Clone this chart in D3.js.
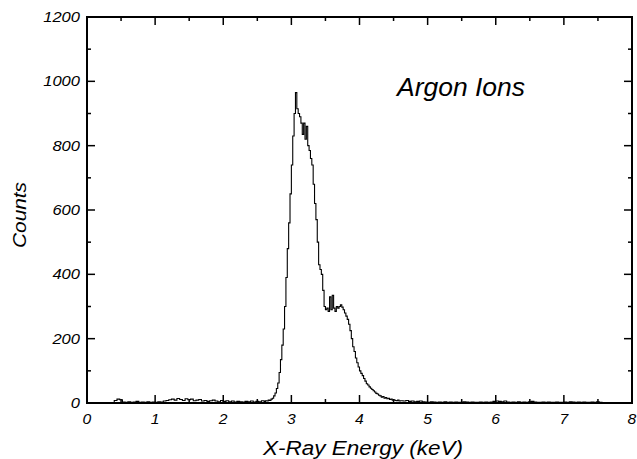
<!DOCTYPE html>
<html><head><meta charset="utf-8">
<script src="https://cdn.jsdelivr.net/npm/d3@7"></script>
<style>body{margin:0;background:#fff}svg{display:block}text{font-family:"Liberation Sans",Arial,sans-serif;font-style:italic;fill:#000}</style>
</head><body>
<script>
// Counts, 0.40–2.56 keV, 0.04 keV bins
const lowStart = 0.40, lowWidth = 0.04;
const lowCounts = [8,12,10,3,2,4,2,3,5,2,3,2,4,2,3,2,4,3,6,8,10,12,9,14,11,8,13,10,12,7,9,11,6,8,5,7,9,6,4,8,5,7,4,6,3,5,4,3,5,4,6,3,5,4,7];
// Counts, 2.60–4.58 keV, 0.02 keV bins
const peakStart = 2.60, peakWidth = 0.02;
const peakCounts = [5,7,6,9,8,12,15,22,31,45,62,95,135,180,230,300,390,480,560,650,740,830,900,965,915,900,890,870,835,870,820,860,800,785,760,740,680,620,570,500,430,415,400,350,300,290,295,285,330,290,335,295,285,300,295,300,305,298,290,280,270,260,245,225,200,175,160,140,125,112,100,92,85,76,68,60,56,50,46,42,38,34,30,28,24,22,18,20,15,17,13,15,11,12,9,10,8,7,9,6];
// Counts, 4.60–7.56 keV, 0.04 keV bins
const highStart = 4.60, highWidth = 0.04;
const highCounts = [7,6,8,5,6,4,5,6,4,3,2,4,3,2,3,2,4,2,3,2,3,2,2,4,3,2,3,2,2,3,2,3,2,3,5,6,5,4,6,3,2,3,2,4,2,3,2,4,5,3,2,2,3,2,3,2,2,3,2,2,3,2,4,3,2,3,2,3,2,2,3,2,4,2];
const xTicks = [0,1,2,3,4,5,6,7,8];
const yTicks = [0,200,400,600,800,1000,1200];
const title = "Argon Ions", xTitle = "X-Ray Energy (keV)", yTitle = "Counts";

const W = 637, H = 459;
const m = {left: 87, right: 5, top: 17, bottom: 56};
const svg = d3.select("body").append("svg").attr("width", W).attr("height", H);
const x = d3.scaleLinear().domain([0, 8]).range([m.left, W - m.right]);
const y = d3.scaleLinear().domain([0, 1200]).range([H - m.bottom, m.top]);

// step data
const bins = [];
lowCounts.forEach((c, i) => bins.push({x0: lowStart + i*lowWidth, x1: lowStart + (i+1)*lowWidth, c}));
peakCounts.forEach((c, i) => bins.push({x0: peakStart + i*peakWidth, x1: peakStart + (i+1)*peakWidth, c}));
highCounts.forEach((c, i) => bins.push({x0: highStart + i*highWidth, x1: highStart + (i+1)*highWidth, c}));
const pts = [[bins[0].x0, 0]];
bins.forEach(b => { pts.push([b.x0, b.c]); pts.push([b.x1, b.c]); });
pts.push([bins[bins.length-1].x1, 0]);
svg.append("path").attr("d", d3.line().x(d => x(d[0])).y(d => y(d[1]))(pts))
  .attr("fill", "none").attr("stroke", "#000").attr("stroke-width", 1.1);

// ticks (inside, all four sides)
const minorX = d3.range(0.5, 8, 1), minorY = d3.range(100, 1200, 200);
const g = svg.append("g").attr("stroke", "#000").attr("stroke-width", 1.5);
const x0 = x(0), x8 = x(8), yb = y(0), yt = y(1200);
xTicks.slice(1, -1).forEach(v => { g.append("line").attr("x1", x(v)).attr("x2", x(v)).attr("y1", yb).attr("y2", yb - 8); g.append("line").attr("x1", x(v)).attr("x2", x(v)).attr("y1", yt).attr("y2", yt + 8); });
minorX.forEach(v => { g.append("line").attr("x1", x(v)).attr("x2", x(v)).attr("y1", yb).attr("y2", yb - 4); g.append("line").attr("x1", x(v)).attr("x2", x(v)).attr("y1", yt).attr("y2", yt + 4); });
yTicks.slice(1, -1).forEach(v => { g.append("line").attr("x1", x0).attr("x2", x0 + 8).attr("y1", y(v)).attr("y2", y(v)); g.append("line").attr("x1", x8).attr("x2", x8 - 8).attr("y1", y(v)).attr("y2", y(v)); });
minorY.forEach(v => { g.append("line").attr("x1", x0).attr("x2", x0 + 4).attr("y1", y(v)).attr("y2", y(v)); g.append("line").attr("x1", x8).attr("x2", x8 - 4).attr("y1", y(v)).attr("y2", y(v)); });

// frame
svg.append("rect").attr("x", x0).attr("y", yt).attr("width", x8 - x0).attr("height", yb - yt)
  .attr("fill", "none").attr("stroke", "#000").attr("stroke-width", 2);

function stretch(sel, f) {
  sel.each(function() { const L = this.getComputedTextLength(); d3.select(this).attr("textLength", L * f).attr("lengthAdjust", "spacingAndGlyphs"); });
}
// tick labels
svg.append("g").selectAll("text").data(xTicks).join("text")
  .attr("x", d => x(d)).attr("y", yb + 21).attr("text-anchor", "middle").attr("font-size", 14).text(d => d).call(stretch, 1.12);
svg.append("g").selectAll("text").data(yTicks).join("text")
  .attr("x", x0 - 7).attr("y", d => y(d) + 5).attr("text-anchor", "end").attr("font-size", 14).text(d => d).call(stretch, 1.18);

// titles
svg.append("text").attr("x", 363).attr("y", 455).attr("text-anchor", "middle").attr("font-size", 19.5)
  .attr("textLength", 200).attr("lengthAdjust", "spacingAndGlyphs").text(xTitle);
svg.append("text").attr("transform", "translate(26,215) rotate(-90)").attr("text-anchor", "middle").attr("font-size", 19)
  .attr("textLength", 66).attr("lengthAdjust", "spacingAndGlyphs").text(yTitle);
svg.append("text").attr("x", 397).attr("y", 96).attr("font-size", 25)
  .attr("textLength", 128).attr("lengthAdjust", "spacingAndGlyphs").text(title);
</script>
</body></html>
